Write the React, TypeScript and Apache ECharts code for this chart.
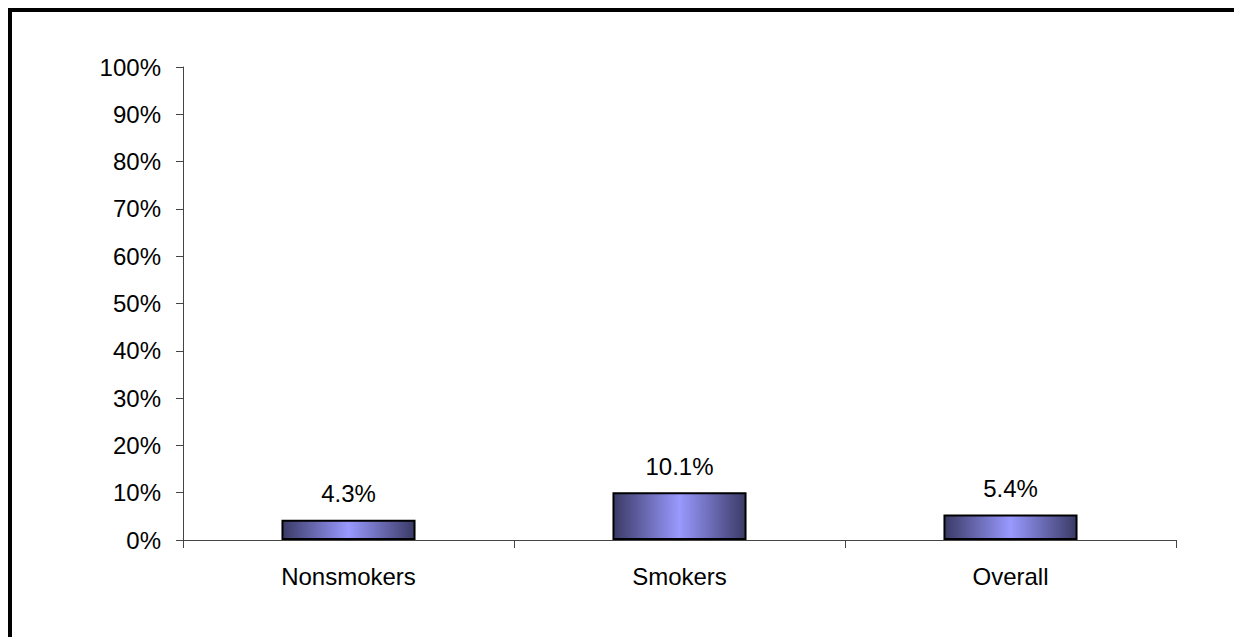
import React, { useEffect, useRef } from "react";
import * as echarts from "echarts";

const categories = ["Nonsmokers", "Smokers", "Overall"];
const values = [4.3, 10.1, 5.4];
const yTicks = [0, 10, 20, 30, 40, 50, 60, 70, 80, 90, 100];

export default function App() {
  const ref = useRef<HTMLDivElement>(null);
  useEffect(() => {
    if (!ref.current) return;
    const chart = echarts.init(ref.current, undefined, { renderer: "svg" });
    const font = "'Liberation Sans', Arial, sans-serif";
    const barColor = new echarts.graphic.LinearGradient(0, 0, 1, 0, [
      { offset: 0, color: "#3a3a66" },
      { offset: 0.5, color: "#9999ff" },
      { offset: 1, color: "#3a3a66" },
    ]);
    chart.setOption({
      animation: false,
      backgroundColor: "#ffffff",
      grid: { left: 171, right: 58, top: 55, bottom: 97 },
      xAxis: {
        type: "category",
        data: categories,
        axisLine: { lineStyle: { color: "#444", width: 1 } },
        axisTick: { show: true, length: 8, lineStyle: { color: "#444" } },
        axisLabel: { color: "#000", fontFamily: font, fontSize: 24, margin: 24 },
      },
      yAxis: {
        type: "value",
        min: yTicks[0],
        max: yTicks[yTicks.length - 1],
        interval: 10,
        splitLine: { show: false },
        axisLine: { show: true, lineStyle: { color: "#444", width: 1 } },
        axisTick: { show: true, length: 7, lineStyle: { color: "#444" } },
        axisLabel: {
          color: "#000",
          fontFamily: font,
          fontSize: 24,
          margin: 22,
          formatter: (v: number) => `${v}%`,
        },
      },
      series: [
        {
          type: "bar",
          data: values,
          barWidth: "40.5%",
          itemStyle: { color: barColor, borderColor: "#000", borderWidth: 2 },
          label: {
            show: true,
            position: "top",
            distance: 14,
            color: "#000",
            fontFamily: font,
            fontSize: 24,
            formatter: (p: any) => `${p.value.toFixed(1)}%`,
          },
        },
      ],
    });
    return () => chart.dispose();
  }, []);
  return (
    <div style={{ position: "fixed", left: 0, top: 0, right: 0, bottom: 0, background: "#fff", overflow: "hidden" }}>
      <div style={{ position: "absolute", left: 8, top: 8, right: 0, height: 4, background: "#000" }} />
      <div style={{ position: "absolute", left: 8, top: 8, bottom: 0, width: 4, background: "#000" }} />
      <div ref={ref} style={{ position: "absolute", left: 12, top: 12, width: 1222, height: 625 }} />
    </div>
  );
}
